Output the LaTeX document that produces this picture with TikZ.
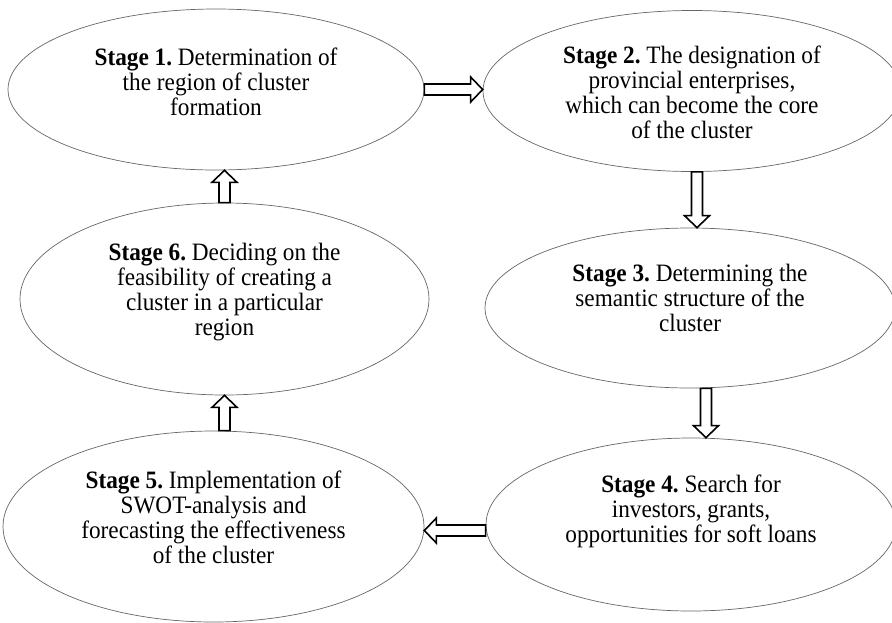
\documentclass[tikz,border=0pt]{standalone}
\usepackage{fontspec}
\setmainfont{Liberation Serif}[FakeStretch=0.93]
\usetikzlibrary{shapes.geometric}
\usetikzlibrary{calc}
\frenchspacing

\begin{document}
\begin{tikzpicture}[x=1pt,y=-1pt,
        stage/.style={ellipse,draw=black!60,line width=0.7pt,inner sep=0pt},
        words/.style={align=center,font=\fontsize{25}{25}\selectfont,inner sep=0pt},
        hollow/.style={draw=black,line width=1.6pt,fill=white,line join=miter,
            to path={let \p1=($(\tikztotarget)!12pt!(\tikztostart)$) in
                ($(\tikztostart)!5.5pt!90:(\tikztotarget)$)
                -- ($(\p1)!5.5pt!-90:(\tikztostart)$)
                -- ($(\p1)!12.5pt!-90:(\tikztostart)$)
                -- (\tikztotarget)
                -- ($(\p1)!12.5pt!90:(\tikztostart)$)
                -- ($(\p1)!5.5pt!90:(\tikztostart)$)
                -- ($(\tikztostart)!5.5pt!-90:(\tikztotarget)$) -- cycle}},
    ]
        \useasboundingbox (0,0) rectangle (892,622);
        \clip (0,0) rectangle (892,622);

        % stage 1
        \node (e1) at (216,89.5) [stage,minimum width=416pt,minimum height=161pt] {};
        \node (t1) at ([yshift=7.5pt]e1.center) [words]
            {\textbf{Stage 1.} Determination of\\the region of cluster\\formation};

        % stage 2
        \node (e2) at (692,91) [stage,minimum width=418pt,minimum height=161pt] {};
        \node (t2) at ([yshift=-1pt]e2.center) [words]
            {\textbf{Stage 2.} The designation of\\provincial enterprises,\\which can become the core\\of the cluster};

        % stage 3
        \node (e3) at (690,308) [stage,minimum width=410pt,minimum height=160pt] {};
        \node (t3) at ([yshift=10pt]e3.center) [words]
            {\textbf{Stage 3.} Determining the\\semantic structure of the\\cluster};

        % stage 4
        \node (e4) at (691,524.5) [stage,minimum width=410pt,minimum height=173pt] {};
        \node (t4) at ([yshift=13pt]e4.center) [words]
            {\textbf{Stage 4.} Search for\\investors, grants,\\opportunities for soft loans};

        % stage 5
        \node (e5) at (213.5,526.5) [stage,minimum width=421pt,minimum height=191pt] {};
        \node (t5) at ([yshift=9.5pt]e5.center) [words]
            {\textbf{Stage 5.} Implementation of\\SWOT-analysis and\\forecasting the effectiveness\\of the cluster};

        % stage 6
        \node (e6) at (224.5,299) [stage,minimum width=409pt,minimum height=192pt] {};
        \node (t6) at ([yshift=7pt]e6.center) [words]
            {\textbf{Stage 6.} Deciding on the\\feasibility of creating a\\cluster in a particular\\region};

        % arrows
        \draw[hollow] (e1.east) to (e1.east -| e2.west);
        \draw[hollow] ([xshift=5pt]e2.south) to ([xshift=5pt]e2.south |- e3.north);
        \draw[hollow] ([xshift=16pt]e3.south) to ([xshift=16pt]e3.south |- e4.north);
        \draw[hollow] ([yshift=-6pt]e4.west) to ([yshift=-6pt]e4.west -| e5.east);
        \draw[hollow] (e6.south |- e5.north) to (e6.south);
        \draw[hollow] (e6.north) to (e6.north |- e1.south);
    \end{tikzpicture}
\end{document}
